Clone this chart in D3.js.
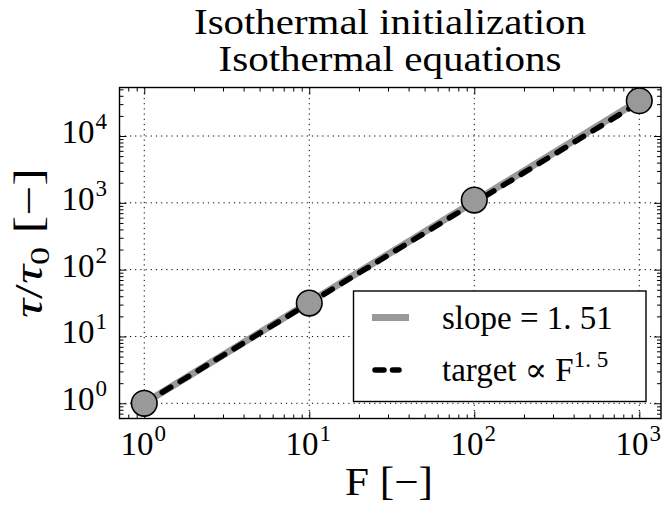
<!DOCTYPE html>
<html><head><meta charset="utf-8">
<script src="https://cdn.jsdelivr.net/npm/d3@7"></script>
<style>html,body{margin:0;padding:0;background:#fff;} svg{display:block;} text{font-family:'Liberation Serif','DejaVu Serif',serif;}</style>
</head><body><svg id="c" width="663" height="506"></svg>
<script>
// ---- data ----
const Fvals = [1, 10, 100, 1000];
const tauVals = [1, 31.6, 1100, 33700];
const fitF = [1, 1000];
const fitTau = [1, 33900];          // slope = 1.51
const targetF = [1, 1000];
const targetTau = [1, 31623];       // ∝ F^1.5
const xTickVals = [1, 10, 100, 1000];
const xTickExps = ["0", "1", "2", "3"];
const yTickVals = [1, 10, 100, 1000, 10000];
const yTickExps = ["0", "1", "2", "3", "4"];
const titleLines = ["Isothermal initialization", "Isothermal equations"];
const legendLabels = ["slope", "target"];

// ---- layout ----
const L = 119.5, R = 661, T = 87.5, B = 418.5;
const FONT = "'Liberation Serif', 'DejaVu Serif', serif";
const svg = d3.select("#c").attr("font-family", FONT);
const x = d3.scaleLog().domain([Math.pow(10, -0.15), Math.pow(10, 3.1315)]).range([L, R]);
const y = d3.scaleLog().domain([Math.pow(10, -0.2275), Math.pow(10, 4.726)]).range([B, T]);

function minorTicks(scale) {
  const [a, b] = scale.domain();
  const out = [];
  for (let e = Math.floor(Math.log10(a)) ; e <= Math.ceil(Math.log10(b)); e++) {
    for (let m = 2; m <= 9; m++) {
      const v = m * Math.pow(10, e);
      if (v >= a && v <= b) out.push(v);
    }
  }
  return out;
}
const xMinor = minorTicks(x), yMinor = minorTicks(y);

// grid
const grid = svg.append("g").attr("stroke", "#000").attr("stroke-width", 1).attr("stroke-dasharray", "1.2,4");
grid.selectAll("line.gx").data(xTickVals).join("line")
  .attr("x1", d => x(d)).attr("x2", d => x(d)).attr("y1", T).attr("y2", B);
grid.selectAll("line.gy").data(yTickVals).join("line")
  .attr("y1", d => y(d)).attr("y2", d => y(d)).attr("x1", L).attr("x2", R);

// axes ticks (inward, all four sides)
function addAxis(gen, tx, ty, vals, size) {
  const g = svg.append("g").attr("transform", `translate(${tx},${ty})`)
    .call(gen.tickValues(vals).tickSizeInner(-size).tickSizeOuter(0).tickFormat(""));
  g.select(".domain").remove();
  g.selectAll("line").attr("stroke", "#000").attr("stroke-width", 1);
  return g;
}
addAxis(d3.axisBottom(x), 0, B, xTickVals, 7);
addAxis(d3.axisBottom(x), 0, B, xMinor, 4);
addAxis(d3.axisTop(x), 0, T, xTickVals, 7);
addAxis(d3.axisTop(x), 0, T, xMinor, 4);
addAxis(d3.axisLeft(y), L, 0, yTickVals, 7);
addAxis(d3.axisLeft(y), L, 0, yMinor, 4);
addAxis(d3.axisRight(y), R, 0, yTickVals, 7);
addAxis(d3.axisRight(y), R, 0, yMinor, 4);

// lines
const line = d3.line().x(d => x(d[0])).y(d => y(d[1]));
svg.append("path").datum(fitF.map((f, i) => [f, fitTau[i]]))
  .attr("d", line).attr("fill", "none").attr("stroke", "#999").attr("stroke-width", 7);
svg.append("path").datum(targetF.map((f, i) => [f, targetTau[i]]))
  .attr("d", line).attr("fill", "none").attr("stroke", "#000").attr("stroke-width", 5.5)
  .attr("stroke-dasharray", "10,11").attr("stroke-linecap", "round");

// markers
svg.selectAll("circle.pt").data(Fvals.map((f, i) => [f, tauVals[i]])).join("circle")
  .attr("cx", d => x(d[0])).attr("cy", d => y(d[1])).attr("r", 12.8)
  .attr("fill", "#999").attr("stroke", "#000").attr("stroke-width", 1.6);

// frame
svg.append("rect").attr("x", L).attr("y", T).attr("width", R - L).attr("height", B - T)
  .attr("fill", "none").attr("stroke", "#000").attr("stroke-width", 1.4);

// tick labels
const tickFs = 33, supFs = 23;
const xl = svg.append("g").attr("font-size", tickFs).attr("fill", "#000");
xTickVals.forEach((v, i) => {
  const t = xl.append("text").attr("x", x(v) - 1).attr("y", 455).attr("text-anchor", "middle");
  t.append("tspan").text("10");
  t.append("tspan").attr("font-size", supFs).attr("dx", 1).attr("dy", -14).text(xTickExps[i]);
});
const yl = svg.append("g").attr("font-size", tickFs).attr("fill", "#000");
yTickVals.forEach((v, i) => {
  const t = yl.append("text").attr("x", 107).attr("y", y(v) + 7).attr("text-anchor", "end");
  t.append("tspan").text("10");
  t.append("tspan").attr("font-size", supFs).attr("dx", 1).attr("dy", -14).text(yTickExps[i]);
});

// title
const titleW = [392, 343];
svg.append("g").attr("font-size", 35).attr("text-anchor", "middle")
  .selectAll("text").data(titleLines).join("text")
  .attr("x", 390).attr("y", (d, i) => 34 + i * 37)
  .attr("textLength", (d, i) => titleW[i]).attr("lengthAdjust", "spacingAndGlyphs")
  .text(d => d);

// x label
const xlab = svg.append("text").attr("x", 389).attr("y", 495).attr("text-anchor", "middle").attr("font-size", 40)
  .attr("textLength", 88).attr("lengthAdjust", "spacingAndGlyphs");
xlab.text("F [−]");

// y label
const ylab = svg.append("text").attr("transform", "translate(42,243) rotate(-90)")
  .attr("text-anchor", "middle").attr("font-size", 40)
  .attr("textLength", 150).attr("lengthAdjust", "spacingAndGlyphs");
ylab.append("tspan").attr("font-style", "italic").text("τ");
ylab.append("tspan").text("/");
ylab.append("tspan").attr("font-style", "italic").text("τ");
ylab.append("tspan").attr("font-size", 27).attr("dy", 7).text("0");
ylab.append("tspan").attr("dy", -7).text(" [−]");

// legend
const lg = svg.append("g");
lg.append("rect").attr("x", 353.5).attr("y", 291).attr("width", 292.5).attr("height", 110.5)
  .attr("fill", "#fff").attr("stroke", "#000").attr("stroke-width", 1.4);
lg.append("line").attr("x1", 372).attr("x2", 409).attr("y1", 317.5).attr("y2", 317.5)
  .attr("stroke", "#999").attr("stroke-width", 7);
lg.append("line").attr("x1", 375).attr("x2", 399).attr("y1", 370).attr("y2", 370)
  .attr("stroke", "#000").attr("stroke-width", 5.5).attr("stroke-dasharray", "9,8.5").attr("stroke-linecap", "round");
const t1 = lg.append("text").attr("x", 442).attr("y", 328.5).attr("font-size", 33);
t1.append("tspan").text(legendLabels[0] + " = 1. 51");
const t2 = lg.append("text").attr("x", 442).attr("y", 380.5).attr("font-size", 33);
t2.append("tspan").text(legendLabels[1] + "  ∝ F");
t2.append("tspan").attr("font-size", 23).attr("dy", -14).text("1. 5");
</script></body></html>
